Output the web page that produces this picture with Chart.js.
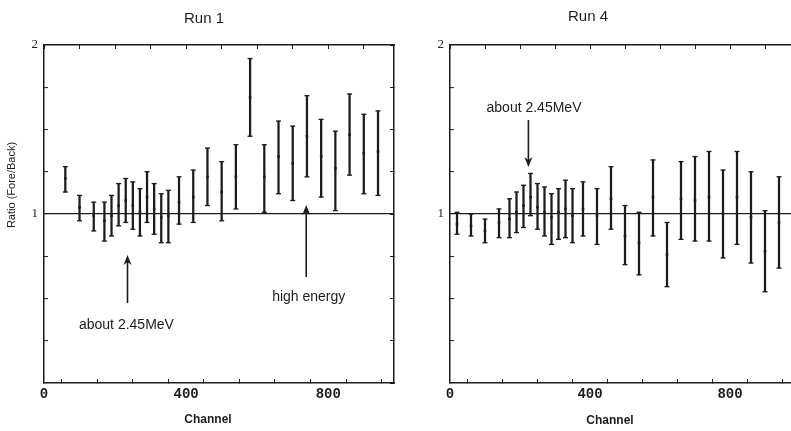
<!DOCTYPE html>
<html>
<head>
<meta charset="utf-8">
<script src="https://cdn.jsdelivr.net/npm/chart.js@4.4.0/dist/chart.umd.min.js"></script>
<style>
html, body { margin: 0; padding: 0; background: #fff; overflow: hidden; width: 791px; height: 431px; }
.panel { position: absolute; top: 0; width: 420px; height: 431px; }
</style>
</head>
<body>
<div class="panel" style="left:0"><canvas id="run1" width="420" height="431"></canvas></div>
<div class="panel" style="left:406px"><canvas id="run4" width="420" height="431"></canvas></div>
<script>
// channel positions of the points
const channels1 = [60, 100, 140, 170, 190, 210, 230, 250, 270, 290, 310, 330, 350, 380, 420, 460, 500, 540, 580, 620, 660, 700, 740, 780, 820, 860, 900, 940];
const channels4 = [20, 60, 100, 140, 170, 190, 210, 230, 250, 270, 290, 310, 330, 350, 380, 420, 460, 500, 540, 580, 620, 660, 700, 740, 780, 820, 860, 900, 940];

// Run 1 : ratio and error bar ends
const ratio1 = [1.21, 1.04, 0.99, 0.96, 0.99, 1.05, 1.08, 1.05, 1.01, 1.10, 1.03, 0.98, 0.99, 1.07, 1.10, 1.22, 1.13, 1.22, 1.69, 1.22, 1.34, 1.30, 1.46, 1.34, 1.27, 1.47, 1.36, 1.37];
const high1  = [1.28, 1.11, 1.07, 1.07, 1.11, 1.18, 1.21, 1.19, 1.15, 1.25, 1.18, 1.12, 1.14, 1.22, 1.26, 1.39, 1.31, 1.41, 1.92, 1.41, 1.55, 1.52, 1.70, 1.56, 1.49, 1.71, 1.59, 1.61];
const low1   = [1.13, 0.96, 0.90, 0.84, 0.87, 0.93, 0.95, 0.91, 0.87, 0.95, 0.88, 0.83, 0.83, 0.94, 0.95, 1.05, 0.96, 1.03, 1.46, 1.01, 1.12, 1.08, 1.22, 1.10, 1.02, 1.23, 1.12, 1.11];

// Run 4
const ratio4 = [0.94, 0.93, 0.90, 0.95, 0.97, 1.01, 1.05, 1.10, 1.04, 1.01, 0.98, 1.01, 1.03, 0.99, 1.03, 0.99, 1.09, 0.87, 0.83, 1.10, 0.76, 1.09, 1.08, 1.10, 1.00, 1.10, 0.98, 0.78, 0.95];
const high4  = [1.01, 1.00, 0.97, 1.03, 1.09, 1.13, 1.17, 1.24, 1.18, 1.16, 1.12, 1.15, 1.20, 1.15, 1.19, 1.15, 1.28, 1.05, 1.01, 1.32, 0.95, 1.31, 1.34, 1.37, 1.26, 1.37, 1.25, 1.02, 1.22];
const low4   = [0.88, 0.87, 0.83, 0.86, 0.86, 0.89, 0.92, 0.99, 0.91, 0.87, 0.82, 0.85, 0.86, 0.83, 0.87, 0.82, 0.91, 0.70, 0.64, 0.87, 0.57, 0.85, 0.84, 0.84, 0.74, 0.82, 0.71, 0.54, 0.68];

// tick labels
const xLabels = [0, 400, 800];
const yLabels = [1, 2];

const ink = '#1c1c1c';
const sans = '"Liberation Sans", Arial, sans-serif';

function makeDatasets(ch, ratio, high, low) {
    return [
        {
            type: 'bar',
            data: ch.map((c, i) => ({ x: c, y: [low[i], high[i]] })),
            backgroundColor: ink,
            borderWidth: 0,
            barThickness: 1.6,
            grouped: false
        },
        {
            type: 'scatter',
            data: ch.flatMap((c, i) => [{ x: c, y: high[i] }, { x: c, y: low[i] }]),
            pointStyle: 'line',
            radius: 2.5,
            borderWidth: 1.3,
            borderColor: ink
        },
        {
            type: 'scatter',
            data: ch.map((c, i) => ({ x: c, y: ratio[i] })),
            pointStyle: 'rect',
            radius: 1.8,
            backgroundColor: ink,
            borderWidth: 0
        }
    ];
}

function makeScales(xMax) {
    const border = { color: ink, width: 1.5 };
    return {
        x: {
            type: 'linear', position: 'bottom', min: 0, max: xMax, offset: false,
            border: border,
            grid: { drawOnChartArea: false, tickLength: -4, color: ink, tickWidth: 1 },
            ticks: {
                stepSize: 100, includeBounds: false, autoSkip: false, maxRotation: 0, padding: 7,
                color: ink, font: { family: '"Liberation Mono", monospace', size: 14, weight: 'bold' },
                callback: v => xLabels.includes(v) ? String(v) : ''
            },
            afterFit: s => { s.height = 48; }
        },
        x2: {
            type: 'linear', position: 'top', min: 0, max: xMax, offset: false,
            border: border,
            grid: { drawOnChartArea: false, tickLength: -4, color: ink, tickWidth: 1 },
            ticks: { stepSize: 100, includeBounds: false, autoSkip: false, callback: () => '' },
            afterFit: s => { s.height = 45; }
        },
        y: {
            type: 'linear', position: 'left', min: 0, max: 2,
            border: border,
            grid: {
                tickLength: -4, lineWidth: 1.2, tickColor: ink, tickWidth: 1,
                color: c => (c.tick && c.tick.value === 1) ? ink : 'rgba(0,0,0,0)'
            },
            ticks: {
                stepSize: 0.25, autoSkip: false, padding: 10,
                color: ink, font: { family: '"Liberation Serif", serif', size: 13 },
                callback: v => yLabels.includes(v) ? String(v) : ''
            },
            afterFit: s => { s.width = 44; }
        },
        y2: {
            type: 'linear', position: 'right', min: 0, max: 2,
            border: border,
            grid: { drawOnChartArea: false, tickLength: -4, color: ink, tickWidth: 1 },
            ticks: { stepSize: 0.25, autoSkip: false, callback: () => '' },
            afterFit: s => { s.width = 26; }
        }
    };
}

// titles (pixel spots) and arrows/notes (in data units)
function notesPlugin(notes) {
    return {
        id: 'notes',
        afterDraw(chart) {
            const ctx = chart.ctx;
            const xs = chart.scales.x, ys = chart.scales.y;
            ctx.save();
            ctx.fillStyle = ink;
            ctx.strokeStyle = ink;
            ctx.textAlign = 'center';
            ctx.textBaseline = 'middle';
            notes.texts.forEach(t => {
                let px, py;
                if (t.at) { px = xs.getPixelForValue(t.at[0]); py = ys.getPixelForValue(t.at[1]); }
                else { px = t.px[0]; py = t.px[1]; }
                ctx.font = t.font;
                ctx.save();
                ctx.translate(px, py);
                if (t.rotate) ctx.rotate(-Math.PI / 2);
                ctx.fillText(t.text, 0, 0);
                ctx.restore();
            });
            notes.arrows.forEach(a => {
                const px = xs.getPixelForValue(a.x);
                const y0 = ys.getPixelForValue(a.from);
                const y1 = ys.getPixelForValue(a.to);
                const dir = y1 > y0 ? 1 : -1;
                ctx.lineWidth = 1.6;
                ctx.beginPath();
                ctx.moveTo(px, y0);
                ctx.lineTo(px, y1 - dir * 6);
                ctx.stroke();
                ctx.beginPath();
                ctx.moveTo(px, y1);
                ctx.lineTo(px - 4, y1 - dir * 10);
                ctx.lineTo(px, y1 - dir * 7);
                ctx.lineTo(px + 4, y1 - dir * 10);
                ctx.closePath();
                ctx.fill();
            });
            ctx.restore();
        }
    };
}

function drawRun(id, ch, ratio, high, low, xMax, notes) {
    new Chart(document.getElementById(id), {
        type: 'scatter',
        data: { datasets: makeDatasets(ch, ratio, high, low) },
        options: {
            responsive: false,
            animation: false,
            events: [],
            layout: { padding: 0 },
            plugins: { legend: { display: false }, tooltip: { enabled: false } },
            scales: makeScales(xMax)
        },
        plugins: [notesPlugin(notes)]
    });
}

drawRun('run1', channels1, ratio1, high1, low1, 985, {
    texts: [
        { text: 'Run 1', px: [204, 19], font: '15px ' + sans },
        { text: 'Channel', px: [208, 420], font: 'bold 12px ' + sans },
        { text: 'Ratio (Fore/Back)', px: [12, 185], rotate: true, font: '11px ' + sans },
        { text: 'about 2.45MeV', at: [232, 0.343], font: '14px ' + sans },
        { text: 'high energy', at: [745, 0.509], font: '14px ' + sans }
    ],
    arrows: [
        { x: 235, from: 0.473, to: 0.757 },
        { x: 738, from: 0.627, to: 1.053 }
    ]
});

drawRun('run4', channels4, ratio4, high4, low4, 1000, {
    texts: [
        { text: 'Run 4', px: [182, 17], font: '15px ' + sans },
        { text: 'Channel', px: [204, 421], font: 'bold 12px ' + sans },
        { text: 'about 2.45MeV', at: [240, 1.627], font: '14px ' + sans }
    ],
    arrows: [
        { x: 224, from: 1.556, to: 1.278 }
    ]
});
</script>
</body>
</html>
